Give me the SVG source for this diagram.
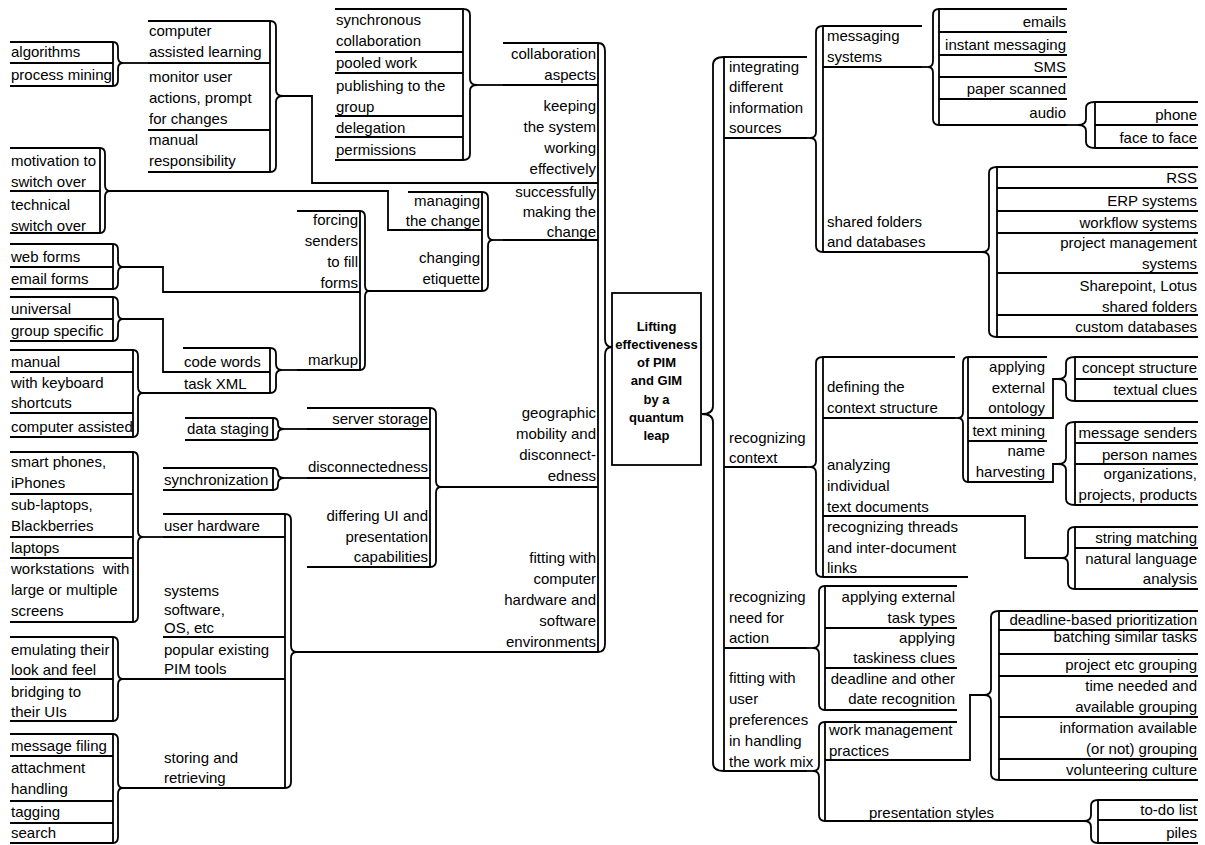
<svg xmlns="http://www.w3.org/2000/svg" width="1205" height="845" viewBox="0 0 1205 845">
<style>
.t{font-family:"Liberation Sans",Arial,sans-serif;font-size:15px;fill:#000}
.r{text-anchor:end}
.c{font-family:"Liberation Sans",Arial,sans-serif;font-size:13px;font-weight:bold;text-anchor:middle;fill:#000}
.ln{stroke:#000;stroke-width:1.8;fill:none}
</style>
<rect width="1205" height="845" fill="#fff"/>

<g id="center">
<rect x="612" y="293" width="89" height="172" class="ln"/>
<text class="c" x="656.5" y="331">Lifting</text>
<text class="c" x="656.5" y="349">effectiveness</text>
<text class="c" x="656.5" y="367">of PIM</text>
<text class="c" x="656.5" y="385">and GIM</text>
<text class="c" x="656.5" y="404">by a</text>
<text class="c" x="656.5" y="422">quantum</text>
<text class="c" x="656.5" y="440">leap</text>
</g>

<g id="n-left-main">
<path class="ln" d="M503,43H598M503,85H598M503,183H598M503,240H598M503,487H598M503,652H598M598,43V652"/>
<text class="t r" x="596" y="59">collaboration</text>
<text class="t r" x="596" y="80">aspects</text>
<text class="t r" x="596" y="111">keeping</text>
<text class="t r" x="596" y="132">the system</text>
<text class="t r" x="596" y="153">working</text>
<text class="t r" x="596" y="174">effectively</text>
<text class="t r" x="596" y="197">successfully</text>
<text class="t r" x="596" y="217">making the</text>
<text class="t r" x="596" y="237">change</text>
<text class="t r" x="596" y="418">geographic</text>
<text class="t r" x="596" y="439">mobility and</text>
<text class="t r" x="596" y="460">disconnect-</text>
<text class="t r" x="596" y="481">edness</text>
<text class="t r" x="596" y="563">fitting with</text>
<text class="t r" x="596" y="584">computer</text>
<text class="t r" x="596" y="605">hardware and</text>
<text class="t r" x="596" y="626">software</text>
<text class="t r" x="596" y="647">environments</text>
</g>

<g id="n-collaboration">
<path class="ln" d="M335,9H463M335,52H463M335,73H463M335,116H463M335,137H463M335,160H463M463,9V160"/>
<text class="t" x="336" y="25">synchronous</text>
<text class="t" x="336" y="46">collaboration</text>
<text class="t" x="336" y="68">pooled work</text>
<text class="t" x="336" y="91">publishing to the</text>
<text class="t" x="336" y="112">group</text>
<text class="t" x="336" y="133">delegation</text>
<text class="t" x="336" y="155">permissions</text>
</g>

<g id="n-keeping">
<path class="ln" d="M148,21H270M148,63H270M148,130H270M148,172H270M270,21V172"/>
<text class="t" x="149" y="36">computer</text>
<text class="t" x="149" y="57">assisted learning</text>
<text class="t" x="149" y="82">monitor user</text>
<text class="t" x="149" y="103">actions, prompt</text>
<text class="t" x="149" y="124">for changes</text>
<text class="t" x="149" y="145">manual</text>
<text class="t" x="149" y="166">responsibility</text>
</g>

<g id="n-algorithms">
<path class="ln" d="M10,42H113M10,63H113M10,86H113M113,42V86"/>
<text class="t" x="11" y="57">algorithms</text>
<text class="t" x="11" y="80">process mining</text>
</g>

<g id="n-motivation">
<path class="ln" d="M10,148H100M10,191H100M10,233H100M100,148V233"/>
<text class="t" x="11" y="166">motivation to</text>
<text class="t" x="11" y="187">switch over</text>
<text class="t" x="11" y="210">technical</text>
<text class="t" x="11" y="231">switch over</text>
</g>

<g id="n-managing">
<path class="ln" d="M408,192H482M408,230H482M408,291H482M482,192V291"/>
<text class="t r" x="480" y="206">managing</text>
<text class="t r" x="480" y="226">the change</text>
<text class="t r" x="480" y="263">changing</text>
<text class="t r" x="480" y="284">etiquette</text>
</g>

<g id="n-forcing">
<path class="ln" d="M297,211H360M297,292H360M297,370H360M360,211V370"/>
<text class="t r" x="358" y="225">forcing</text>
<text class="t r" x="358" y="246">senders</text>
<text class="t r" x="358" y="267">to fill</text>
<text class="t r" x="358" y="288">forms</text>
<text class="t r" x="358" y="365">markup</text>
</g>

<g id="n-webforms">
<path class="ln" d="M10,244H113M10,267H113M10,289H113M113,244V289"/>
<text class="t" x="11" y="262">web forms</text>
<text class="t" x="11" y="284">email forms</text>
</g>

<g id="n-universal">
<path class="ln" d="M10,297H113M10,319H113M10,341H113M113,297V341"/>
<text class="t" x="11" y="314">universal</text>
<text class="t" x="11" y="336">group specific</text>
</g>

<g id="n-codewords">
<path class="ln" d="M183,348H270M183,372H270M183,393H270M270,348V393"/>
<text class="t" x="184" y="367">code words</text>
<text class="t" x="184" y="389">task XML</text>
</g>

<g id="n-manual">
<path class="ln" d="M10,350H133M10,372H133M10,413H133M10,437H133M133,350V437"/>
<text class="t" x="11" y="367">manual</text>
<text class="t" x="11" y="388">with keyboard</text>
<text class="t" x="11" y="408">shortcuts</text>
<text class="t" x="11" y="432">computer assisted</text>
</g>

<g id="n-datastaging">
<path class="ln" d="M185,418H273M185,440H273M273,418V440"/>
<text class="t" x="187" y="434">data staging</text>
</g>

<g id="n-geographic">
<path class="ln" d="M307,408H430M307,429H430M307,478H430M307,567H430M430,408V567"/>
<text class="t r" x="428" y="424">server storage</text>
<text class="t r" x="428" y="472">disconnectedness</text>
<text class="t r" x="428" y="521">differing UI and</text>
<text class="t r" x="428" y="542">presentation</text>
<text class="t r" x="428" y="562">capabilities</text>
</g>

<g id="n-synchronization">
<path class="ln" d="M163,468H273M163,490H273M273,468V490"/>
<text class="t" x="164" y="485">synchronization</text>
</g>

<g id="n-devices">
<path class="ln" d="M10,452H133M10,494H133M10,537H133M10,558H133M10,622H133M133,452V622"/>
<text class="t" x="11" y="467">smart phones,</text>
<text class="t" x="11" y="488">iPhones</text>
<text class="t" x="11" y="510">sub-laptops,</text>
<text class="t" x="11" y="531">Blackberries</text>
<text class="t" x="11" y="553">laptops</text>
<text class="t" x="11" y="574" xml:space="preserve">workstations  with</text>
<text class="t" x="11" y="595">large or multiple</text>
<text class="t" x="11" y="616">screens</text>
</g>

<g id="n-fitting-hw">
<path class="ln" d="M163,514H285M163,537H285M163,637H285M163,679H285M163,788H285M285,514V788"/>
<text class="t" x="164" y="531">user hardware</text>
<text class="t" x="164" y="596">systems</text>
<text class="t" x="164" y="615">software,</text>
<text class="t" x="164" y="633">OS, etc</text>
<text class="t" x="164" y="655">popular existing</text>
<text class="t" x="164" y="674">PIM tools</text>
<text class="t" x="164" y="763">storing and</text>
<text class="t" x="164" y="783">retrieving</text>
</g>

<g id="n-emulating">
<path class="ln" d="M10,637H113M10,679H113M10,721H113M113,637V721"/>
<text class="t" x="11" y="655">emulating their</text>
<text class="t" x="11" y="675">look and feel</text>
<text class="t" x="11" y="697">bridging to</text>
<text class="t" x="11" y="717">their UIs</text>
</g>

<g id="n-filing">
<path class="ln" d="M10,734H113M10,756H113M10,801H113M10,823H113M10,843H113M113,734V843"/>
<text class="t" x="11" y="751">message filing</text>
<text class="t" x="11" y="773">attachment</text>
<text class="t" x="11" y="794">handling</text>
<text class="t" x="11" y="817">tagging</text>
<text class="t" x="11" y="838">search</text>
</g>

<g id="n-right-main">
<path class="ln" d="M724,57H807M724,138H807M724,467H807M724,648H807M724,771H807M724,57V771"/>
<text class="t" x="729" y="72">integrating</text>
<text class="t" x="729" y="92">different</text>
<text class="t" x="729" y="113">information</text>
<text class="t" x="729" y="133">sources</text>
<text class="t" x="729" y="443">recognizing</text>
<text class="t" x="729" y="463">context</text>
<text class="t" x="729" y="602">recognizing</text>
<text class="t" x="729" y="623">need for</text>
<text class="t" x="729" y="643">action</text>
<text class="t" x="729" y="683">fitting with</text>
<text class="t" x="729" y="704">user</text>
<text class="t" x="729" y="725">preferences</text>
<text class="t" x="729" y="746">in handling</text>
<text class="t" x="729" y="767">the work mix</text>
</g>

<g id="n-sources">
<path class="ln" d="M823,26H922M823,67H922M823,252H922M823,26V252"/>
<text class="t" x="827" y="41">messaging</text>
<text class="t" x="827" y="62">systems</text>
<text class="t" x="827" y="227">shared folders</text>
<text class="t" x="827" y="247">and databases</text>
</g>

<g id="n-messaging">
<path class="ln" d="M939,9H1067M939,32H1067M939,55H1067M939,77H1067M939,99H1067M939,125H1067M939,9V125"/>
<text class="t r" x="1066" y="27">emails</text>
<text class="t r" x="1066" y="50">instant messaging</text>
<text class="t r" x="1066" y="72">SMS</text>
<text class="t r" x="1066" y="94">paper scanned</text>
<text class="t r" x="1066" y="118">audio</text>
</g>

<g id="n-audio">
<path class="ln" d="M1095,102H1198M1095,125H1198M1095,148H1198M1095,102V148"/>
<text class="t r" x="1197" y="120">phone</text>
<text class="t r" x="1197" y="143">face to face</text>
</g>

<g id="n-shared">
<path class="ln" d="M997,167H1198M997,188H1198M997,211H1198M997,233H1198M997,273H1198M997,315H1198M997,337H1198M997,167V337"/>
<text class="t r" x="1197" y="183">RSS</text>
<text class="t r" x="1197" y="206">ERP systems</text>
<text class="t r" x="1197" y="228">workflow systems</text>
<text class="t r" x="1197" y="248">project management</text>
<text class="t r" x="1197" y="269">systems</text>
<text class="t r" x="1197" y="291">Sharepoint, Lotus</text>
<text class="t r" x="1197" y="312">shared folders</text>
<text class="t r" x="1197" y="332">custom databases</text>
</g>

<g id="n-context">
<path class="ln" d="M823,357H955M823,418H955M823,516H955M823,577H968M823,357V577"/>
<text class="t" x="827" y="392">defining the</text>
<text class="t" x="827" y="413">context structure</text>
<text class="t" x="827" y="470">analyzing</text>
<text class="t" x="827" y="491">individual</text>
<text class="t" x="827" y="512">text documents</text>
<text class="t" x="827" y="532">recognizing threads</text>
<text class="t" x="827" y="553">and inter-document</text>
<text class="t" x="827" y="573">links</text>
</g>

<g id="n-structure">
<path class="ln" d="M968,357H1047M968,418H1047M968,441H1047M968,482H1047M968,357V482"/>
<text class="t r" x="1045" y="372">applying</text>
<text class="t r" x="1045" y="393">external</text>
<text class="t r" x="1045" y="413">ontology</text>
<text class="t r" x="1045" y="436">text mining</text>
<text class="t r" x="1045" y="456">name</text>
<text class="t r" x="1045" y="477">harvesting</text>
</g>

<g id="n-ontology">
<path class="ln" d="M1075,357H1198M1075,379H1198M1075,401H1198M1075,357V401"/>
<text class="t r" x="1197" y="373">concept structure</text>
<text class="t r" x="1197" y="395">textual clues</text>
</g>

<g id="n-names">
<path class="ln" d="M1075,422H1198M1075,443H1198M1075,464H1198M1075,505H1198M1075,422V505"/>
<text class="t r" x="1197" y="438">message senders</text>
<text class="t r" x="1197" y="460">person names</text>
<text class="t r" x="1197" y="479">organizations,</text>
<text class="t r" x="1197" y="500">projects, products</text>
</g>

<g id="n-text">
<path class="ln" d="M1075,527H1198M1075,548H1198M1075,589H1198M1075,527V589"/>
<text class="t r" x="1197" y="543">string matching</text>
<text class="t r" x="1197" y="564">natural language</text>
<text class="t r" x="1197" y="584">analysis</text>
</g>

<g id="n-action">
<path class="ln" d="M825,586H957M825,628H957M825,668H957M825,710H957M825,586V710"/>
<text class="t r" x="955" y="602">applying external</text>
<text class="t r" x="955" y="623">task types</text>
<text class="t r" x="955" y="643">applying</text>
<text class="t r" x="955" y="663">taskiness clues</text>
<text class="t r" x="955" y="684">deadline and other</text>
<text class="t r" x="955" y="704">date recognition</text>
</g>

<g id="n-workmix">
<path class="ln" d="M825,722H957M825,760H957M825,821H1000M825,722V821"/>
<text class="t" x="829" y="735">work management</text>
<text class="t" x="829" y="756">practices</text>
<text class="t" x="869" y="818">presentation styles</text>
</g>

<g id="n-practices">
<path class="ln" d="M999,611H1198M999,630H1198M999,654H1198M999,676H1198M999,717H1198M999,759H1198M999,780H1198M999,611V780"/>
<text class="t r" x="1197" y="625">deadline-based prioritization</text>
<text class="t r" x="1197" y="642">batching similar tasks</text>
<text class="t r" x="1197" y="670">project etc grouping</text>
<text class="t r" x="1197" y="691">time needed and</text>
<text class="t r" x="1197" y="712">available grouping</text>
<text class="t r" x="1197" y="733">information available</text>
<text class="t r" x="1197" y="754">(or not) grouping</text>
<text class="t r" x="1197" y="775">volunteering culture</text>
</g>

<g id="n-styles">
<path class="ln" d="M1098,800H1198M1098,820H1198M1098,843H1198M1098,800V843"/>
<text class="t r" x="1197" y="815">to-do list</text>
<text class="t r" x="1197" y="838">piles</text>
</g>

<g id="connectors" class="ln">
<!-- braces, left side -->
<path d="M598,43 Q605,43 605,51 V339 Q605,347 612,347 Q605,347 605,355 V644 Q605,652 598,652"/>
<path d="M463,9 Q470,9 470,15 V79 Q470,85 477,85 Q470,85 470,91 V154 Q470,160 463,160"/>
<path d="M270,21 Q276,21 276,27 V90 Q276,96 283,96 Q276,96 276,102 V166 Q276,172 270,172"/>
<path d="M113,42 Q118,42 118,48 V57 Q118,63 123,63 Q118,63 118,69 V80 Q118,86 113,86"/>
<path d="M100,148 Q105,148 105,154 V185 Q105,191 110,191 Q105,191 105,197 V227 Q105,233 100,233"/>
<path d="M482,192 Q488,192 488,198 V234 Q488,240 493,240 Q488,240 488,246 V285 Q488,291 482,291"/>
<path d="M360,211 Q365,211 365,217 V285 Q365,291 369,291 Q365,291 365,297 V364 Q365,370 360,370"/>
<path d="M113,244 Q118,244 118,250 V261 Q118,267 123,267 Q118,267 118,273 V283 Q118,289 113,289"/>
<path d="M113,297 Q118,297 118,303 V313 Q118,319 123,319 Q118,319 118,325 V335 Q118,341 113,341"/>
<path d="M270,348 Q276,348 276,354 V364 Q276,370 282,370 Q276,370 276,376 V387 Q276,393 270,393"/>
<path d="M133,350 Q138,350 138,356 V387 Q138,393 143,393 Q138,393 138,399 V431 Q138,437 133,437"/>
<path d="M273,418 Q278,418 278,423 V424 Q278,429 284,429 Q278,429 278,434 V435 Q278,440 273,440"/>
<path d="M430,408 Q436,408 436,414 V481 Q436,487 441,487 Q436,487 436,493 V561 Q436,567 430,567"/>
<path d="M273,468 Q278,468 278,473 Q278,478 284,478 Q278,478 278,484 V485 Q278,490 273,490"/>
<path d="M133,452 Q138,452 138,458 V531 Q138,537 143,537 Q138,537 138,543 V616 Q138,622 133,622"/>
<path d="M285,514 Q291,514 291,520 V646 Q291,652 297,652 Q291,652 291,658 V782 Q291,788 285,788"/>
<path d="M113,637 Q118,637 118,643 V673 Q118,679 123,679 Q118,679 118,685 V715 Q118,721 113,721"/>
<path d="M113,734 Q118,734 118,740 V782 Q118,788 123,788 Q118,788 118,794 V837 Q118,843 113,843"/>
<!-- braces, right side -->
<path d="M724,57 Q713,57 713,65 V406 Q713,414 702,414 Q713,414 713,422 V763 Q713,771 724,771"/>
<path d="M823,26 Q816,26 816,32 V132 Q816,138 810,138 Q816,138 816,144 V246 Q816,252 823,252"/>
<path d="M939,9 Q933,9 933,15 V61 Q933,67 928,67 Q933,67 933,73 V119 Q933,125 939,125"/>
<path d="M1095,102 Q1086,102 1086,108 V119 Q1086,125 1078,125 Q1086,125 1086,131 V142 Q1086,148 1095,148"/>
<path d="M997,167 Q989,167 989,173 V246 Q989,252 982,252 Q989,252 989,258 V331 Q989,337 997,337"/>
<path d="M823,357 Q816,357 816,363 V461 Q816,467 810,467 Q816,467 816,473 V571 Q816,577 823,577"/>
<path d="M968,357 Q963,357 963,363 V412 Q963,418 958,418 Q963,418 963,424 V476 Q963,482 968,482"/>
<path d="M1075,357 Q1066,357 1066,363 V373 Q1066,379 1058,379 Q1066,379 1066,385 V395 Q1066,401 1075,401"/>
<path d="M1075,422 Q1066,422 1066,428 V458 Q1066,464 1058,464 Q1066,464 1066,470 V499 Q1066,505 1075,505"/>
<path d="M1075,527 Q1068,527 1068,533 V552 Q1068,558 1062,558 Q1068,558 1068,564 V583 Q1068,589 1075,589"/>
<path d="M825,586 Q819,586 819,592 V642 Q819,648 813,648 Q819,648 819,654 V704 Q819,710 825,710"/>
<path d="M825,722 Q819,722 819,728 V765 Q819,771 813,771 Q819,771 819,777 V815 Q819,821 825,821"/>
<path d="M999,611 Q991,611 991,617 V689 Q991,695 984,695 Q991,695 991,701 V774 Q991,780 999,780"/>
<path d="M1098,800 Q1091,800 1091,806 V815 Q1091,821 1084,821 Q1091,821 1091,827 V837 Q1091,843 1098,843"/>
<!-- links, left side -->
<path d="M123,63 H148"/>
<path d="M283,96 H312 V183 H503"/>
<path d="M477,85 H503"/>
<path d="M110,191 H388 V230 H408"/>
<path d="M493,240 H503"/>
<path d="M369,291 H408"/>
<path d="M123,267 H163 V292 H297"/>
<path d="M123,319 H163 V372 H183"/>
<path d="M282,370 H297"/>
<path d="M143,393 H183"/>
<path d="M284,429 H307"/>
<path d="M284,478 H307"/>
<path d="M441,487 H503"/>
<path d="M143,537 H163"/>
<path d="M123,679 H163"/>
<path d="M123,788 H163"/>
<path d="M297,652 H503"/>
<!-- links, right side -->
<path d="M807,138 H810"/>
<path d="M922,67 H928"/>
<path d="M1067,125 H1078"/>
<path d="M922,252 H982"/>
<path d="M807,467 H810"/>
<path d="M955,418 H958"/>
<path d="M1047,418 H1053 V379 H1058"/>
<path d="M1047,482 H1053 V464 H1058"/>
<path d="M955,516 H1025 V558 H1062"/>
<path d="M807,648 H813"/>
<path d="M807,771 H813"/>
<path d="M957,760 H970 V695 H984"/>
<path d="M1000,821 H1084"/>
</g>
</svg>
